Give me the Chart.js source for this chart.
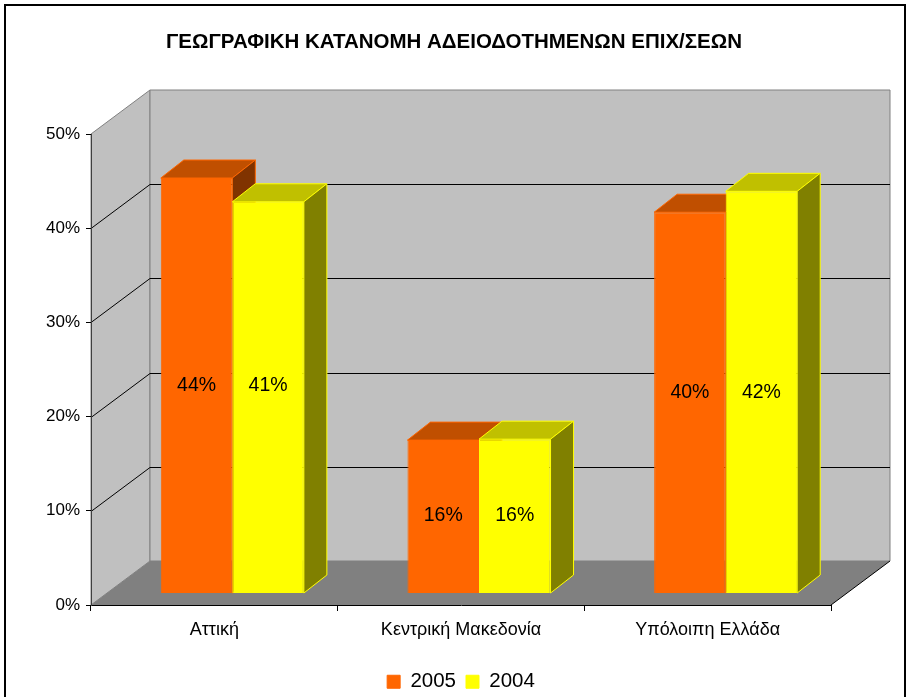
<!DOCTYPE html>
<html>
<head>
<meta charset="utf-8">
<script src="https://cdn.jsdelivr.net/npm/chart.js@4"></script>
<style>
  html, body { margin: 0; padding: 0; background: #fff; }
  #wrap { position: relative; width: 908px; height: 697px; overflow: hidden; }
  #frame { position: absolute; left: 4px; top: 4px; width: 898px; height: 720px; border: 2px solid #000; pointer-events: none; }
</style>
</head>
<body>
<div id="wrap">
  <canvas id="chart" width="908" height="697"></canvas>
  <div id="frame"></div>
</div>
<script>
const TITLE = 'ΓΕΩΓΡΑΦΙΚΗ ΚΑΤΑΝΟΜΗ ΑΔΕΙΟΔΟΤΗΜΕΝΩΝ ΕΠΙΧ/ΣΕΩΝ';
const regions = ['Αττική', 'Κεντρική Μακεδονία', 'Υπόλοιπη Ελλάδα'];
const share2005 = [43.7, 16.1, 40.1];
const share2004 = [41.2, 16.2, 42.3];
const yTicks = [0, 10, 20, 30, 40, 50];

Chart.defaults.font.family = '"Liberation Sans", Arial, sans-serif';
Chart.defaults.color = '#000';

// depth offsets of the fake 3d box
const WALL = { dx: 59, dy: -44 };
const BAR = { dx: 23, dy: -18, shiftX: 18, shiftY: -12 };
const FACES = [
  { top: '#c04f00', side: '#803300', edge: '#ff6600' },
  { top: '#c0c000', side: '#808000', edge: '#ffff00' },
];

function poly(ctx, pts, fill, stroke) {
  ctx.beginPath();
  pts.forEach(([x, y], i) => (i ? ctx.lineTo(x, y) : ctx.moveTo(x, y)));
  ctx.closePath();
  if (fill) { ctx.fillStyle = fill; ctx.fill(); }
  if (stroke) { ctx.strokeStyle = stroke; ctx.lineWidth = 1; ctx.stroke(); }
}

// --- walls + floor behind everything ---

const wallsPlugin = {
  id: 'walls',
  beforeDraw(chart) {
    const { ctx, chartArea: a, scales: { y } } = chart;
    const { dx, dy } = WALL;
    const top = y.getPixelForValue(yTicks[yTicks.length - 1]);
    const bot = y.getPixelForValue(0);
    ctx.save();
    poly(ctx, [[a.left, top], [a.left + dx, top + dy], [a.left + dx, bot + dy], [a.left, bot]], '#c0c0c0', '#808080');
    poly(ctx, [[a.left + dx, top + dy], [a.right + dx, top + dy], [a.right + dx, bot + dy], [a.left + dx, bot + dy]], '#c0c0c0', '#808080');

    ctx.strokeStyle = '#000';
    ctx.lineWidth = 1;
    yTicks.slice(1, -1).forEach(v => {
      const py = Math.round(y.getPixelForValue(v)) + 0.5;
      ctx.beginPath();
      ctx.moveTo(a.left, py);
      ctx.lineTo(a.left + dx, py + dy);
      ctx.lineTo(a.right + dx, py + dy);
      ctx.stroke();
    });

    poly(ctx, [[a.left, bot], [a.left + dx, bot + dy], [a.right + dx, bot + dy], [a.right, bot]], '#808080', null);
    ctx.strokeStyle = '#000';
    ctx.beginPath();
    ctx.moveTo(a.right, bot);
    ctx.lineTo(a.right + dx, bot + dy);
    ctx.stroke();
    ctx.restore();
  },
};

// --- bars: drawn left to right, shifted into the box, with top + side faces ---

const barsPlugin = {
  id: 'bars3d',
  beforeDatasetDraw() {
    return false; // painted in order below
  },
  afterDatasetsDraw(chart) {
    const ctx = chart.ctx;
    const { dx, dy } = BAR;
    const metas = chart.data.datasets.map((_, i) => chart.getDatasetMeta(i));

    metas.forEach((meta, i) => {
      const f = FACES[i];
      ctx.save();
      ctx.translate(BAR.shiftX, BAR.shiftY);
      meta.controller.draw();
      meta.data.forEach(bar => {
        const { x, y, base, width } = bar.getProps(['x', 'y', 'base', 'width'], true);
        const l = x - width / 2, r = x + width / 2;
        poly(ctx, [[l, y], [l + dx, y + dy], [r + dx, y + dy], [r, y]], f.top, f.edge);
        poly(ctx, [[r, y], [r + dx, y + dy], [r + dx, base + dy], [r, base]], f.side, f.edge);
      });
      ctx.restore();
    });

    // value labels
    ctx.save();
    ctx.font = '19.5px "Liberation Sans", Arial, sans-serif';
    ctx.fillStyle = '#000';
    ctx.textAlign = 'center';
    ctx.textBaseline = 'middle';
    regions.forEach((_, j) => {
      const mids = metas.map(m => (m.data[j].y + m.data[j].base) / 2);
      const ly = Math.min(...mids) + BAR.shiftY;
      metas.forEach((m, i) => {
        const v = chart.data.datasets[i].data[j];
        ctx.fillText(Math.round(v) + '%', m.data[j].x + BAR.shiftX, ly);
      });
    });
    ctx.restore();
  },
};

const ctx = document.getElementById('chart').getContext('2d');
new Chart(ctx, {
  type: 'bar',
  data: {
    labels: regions,
    datasets: [
      {
        label: '2005',
        data: share2005,
        backgroundColor: '#ff6600',
        borderColor: '#ff6600',
        borderWidth: 1,
        yAxisID: 'yb',
      },
      {
        label: '2004',
        data: share2004,
        backgroundColor: '#ffff00',
        borderColor: '#ffff00',
        borderWidth: 1,
        yAxisID: 'yb',
      },
    ],
  },
  options: {
    responsive: false,
    animation: false,
    events: [],
    categoryPercentage: 0.58,
    barPercentage: 1,
    layout: { padding: { left: 0, right: 0, top: 0, bottom: -5 } },
    plugins: {
      title: {
        display: true,
        text: TITLE,
        color: '#000',
        font: { size: 20.5, weight: 'bold' },
        padding: { top: 30, bottom: 79.4 },
      },
      legend: {
        position: 'bottom',
        fullSize: false,
        labels: {
          boxWidth: 13,
          boxHeight: 13,
          padding: 10,
          color: '#000',
          font: { size: 20.5 },
        },
      },
      tooltip: { enabled: false },
    },
    scales: {
      x: {
        type: 'category',
        grid: { drawOnChartArea: false, tickLength: 6, color: '#000', offset: true },
        border: { color: '#000', width: 1 },
        ticks: { font: { size: 18 }, color: '#000', padding: 8, maxRotation: 0 },
        afterFit: (s) => { s.height = 56.5; },
      },
      y: {
        type: 'linear',
        position: 'left',
        min: 0,
        max: 50,
        grid: { drawOnChartArea: false, tickLength: 5, color: '#000' },
        border: { color: '#404040', width: 1 },
        ticks: { stepSize: 10, font: { size: 17 }, color: '#000', padding: 6, callback: v => v + '%' },
        afterFit: (s) => { s.width = 91; },
      },
      // bar axis: invisible, sits on the right and only reserves space
      yb: {
        type: 'linear',
        position: 'right',
        min: 0,
        max: 49.6,
        grid: { display: false },
        border: { display: false },
        ticks: { display: false },
        afterFit: (s) => { s.width = 77; },
      },
    },
  },
  plugins: [wallsPlugin, barsPlugin],
});
</script>
</body>
</html>
